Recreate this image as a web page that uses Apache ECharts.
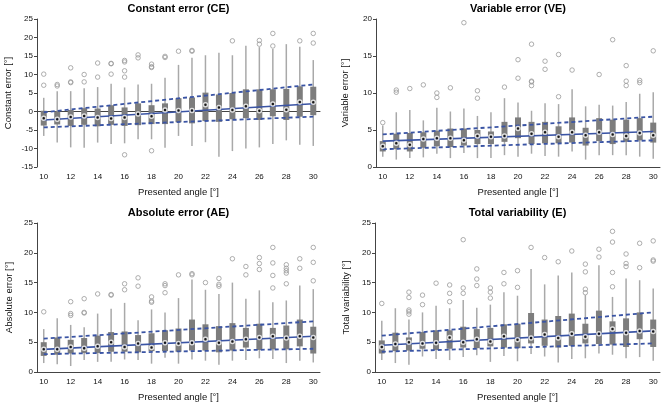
<!DOCTYPE html>
<html>
<head>
<meta charset="utf-8">
<script src="https://cdn.jsdelivr.net/npm/echarts@6/dist/echarts.min.js"></script>
<style>html,body{margin:0;padding:0;background:#fff}#c{width:669px;height:406px}</style>
</head>
<body>
<div id="c"></div>
<script>
const angles = ['10','11','12','13','14','15','16','17','18','19','20','21','22','23','24','25','26','27','28','29','30'];

// [lower whisker, Q1, median, Q3, upper whisker]
const ceBoxes = [
 [-6.6,-3.8,-1.8,0.2,3.7],[-8.4,-3.5,-2.1,0.0,5.5],[-9.7,-3.9,-1.5,0.4,5.5],[-9.8,-3.6,-1.2,0.9,6.3],
 [-8.4,-4.0,-1.6,0.8,6.6],[-8.8,-3.6,-1.9,1.7,7.5],[-8.6,-3.9,-1.6,1.1,6.5],[-7.5,-3.7,-0.7,2.2,7.3],
 [-7.5,-3.4,-1.3,1.7,7.5],[-9.8,-3.4,0.4,2.2,9.1],[-6.6,-2.9,0.3,3.6,12.6],[-9.3,-3.2,0.3,3.8,14.5],
 [-8.3,-2.6,1.8,5.1,15.2],[-12.2,-2.8,1.1,4.6,15.9],[-10.7,-2.1,0.4,5.0,15.2],[-10.0,-1.8,1.4,6.0,17.8],
 [-9.7,-2.3,0.2,6.0,17.4],[-8.8,-1.3,2.0,6.0,16.9],[-7.8,-2.3,0.5,6.1,18.2],[-9.0,-1.4,2.6,6.8,17.5],
 [-9.3,-1.0,2.5,6.7,13.9]
];
const ceOutliers = [[10.1,7.1],[7.3,6.9],[11.8,8.0,7.8],[10.0,8.0],[13.1,9.3],[13.0,12.9,10.1],
 [13.8,13.4,11.0,9.3,-11.7],[15.3,14.5],[12.8,12.1,11.9,-10.6],[14.9,14.6],[16.3],[16.5,16.3],[],[],
 [19.1],[],[19.2,18.2],[21.1,17.7],[],[19.1],[21.1,18.5]];
const ceFit = [-2.3, 2.1], ceUpper = [-0.2, 7.3], ceLower = [-4.3, -1.4];

const veBoxes = [
 [1.4,2.1,2.8,3.5,5.6],[1.0,2.4,3.2,4.5,7.4],[1.2,2.1,3.0,4.6,7.7],[1.3,2.6,3.8,4.7,6.3],
 [1.8,2.8,3.9,4.9,8.0],[1.2,2.7,3.9,5.2,7.5],[1.9,2.9,3.6,5.2,7.9],[1.2,3.1,4.2,5.0,6.9],
 [1.2,3.1,4.1,4.8,7.4],[1.6,3.4,4.2,6.1,9.3],[1.4,3.9,5.2,6.7,8.7],[1.8,3.1,4.5,6.1,7.6],
 [1.5,3.2,4.7,6.1,8.6],[1.4,3.2,4.1,5.5,8.5],[2.1,3.3,4.7,6.7,10.5],[1.0,2.9,4.3,5.3,8.2],
 [1.6,3.5,4.7,6.6,8.4],[1.6,3.1,4.4,6.4,8.3],[1.6,3.4,4.2,6.4,8.8],[1.4,3.6,4.6,6.6,9.9],
 [1.1,3.3,4.3,6.0,10.1]
];
const veOutliers = [[6.0],[10.4,10.1],[10.6],[11.1],[10.0,9.4],[10.7],[19.5],[10.3,9.3],[],[10.8],
 [14.5,12.0],[16.6,11.6,11.5,11.0],[14.3,13.2],[15.2,9.5],[13.1],[],[12.5],[17.2],[13.7,11.6,11.0],
 [11.7,11.4],[15.7]];
const veFit = [3.5, 4.8], veUpper = [4.4, 6.8], veLower = [2.4, 3.6];

const aeBoxes = [
 [1.5,2.7,3.8,5.0,7.2],[1.3,2.9,3.8,5.8,9.0],[1.0,3.1,4.2,5.4,7.9],[2.0,3.2,4.0,5.7,7.5],
 [1.7,3.2,4.3,6.1,9.8],[1.7,3.4,5.0,6.7,10.6],[2.1,3.4,4.2,6.8,11.6],[2.0,3.3,4.8,6.2,8.7],
 [1.4,3.5,4.1,6.5,10.5],[2.4,3.5,4.9,7.0,10.0],[1.4,3.4,4.8,7.3,12.4],[2.1,3.6,4.9,8.8,15.5],
 [1.9,3.6,5.5,8.0,13.8],[1.2,3.3,4.9,7.7,13.1],[1.9,3.6,5.1,8.2,15.0],[2.0,4.1,5.5,7.4,12.3],
 [2.3,3.7,5.8,8.1,13.7],[2.2,3.8,6.0,7.4,11.7],[1.5,3.8,5.7,7.8,12.0],[1.9,4.3,6.0,8.8,14.5],
 [1.6,3.1,5.8,7.6,13.9]
];
const aeOutliers = [[10.1],[],[11.8,9.8,9.5],[12.3,10.0,9.9],[13.1],[13.0,12.9],[14.8,13.8],[15.8,14.4],
 [12.6,11.9,11.7],[14.8,14.5,13.3],[16.3],[16.5,16.3],[15.0],[15.7,14.7,14.4],[19.0],[17.7,16.3],
 [19.2,18.2,17.2],[20.9,18.3,16.2,14.1],[18.0,17.4,17.0,16.6,14.8],[19.0,17.4],[20.9,18.4,15.3]];
const aeFit = [3.8, 6.0], aeUpper = [5.6, 8.5], aeLower = [3.0, 3.9];

const eBoxes = [
 [2.0,3.1,4.2,5.3,8.6],[1.5,3.5,4.7,6.6,10.7],[1.2,3.6,5.0,5.8,8.8],[2.6,3.9,4.8,6.7,10.0],
 [2.2,3.7,4.9,7.0,11.1],[2.0,3.9,5.8,7.0,10.7],[2.5,4.1,5.0,7.6,12.1],[2.8,4.0,5.5,7.2,10.8],
 [1.7,4.3,5.1,7.4,11.3],[2.7,4.1,6.0,8.0,13.4],[1.8,4.0,5.4,8.1,12.8],[3.0,4.8,5.7,9.9,17.3],
 [2.6,4.4,6.3,8.8,14.7],[1.6,4.1,5.7,9.4,16.2],[2.2,4.4,6.4,9.8,16.7],[2.3,4.8,5.9,8.1,12.9],
 [3.1,4.7,6.4,10.3,17.9],[2.9,4.6,7.2,8.5,12.6],[2.3,4.2,6.6,9.0,15.7],[2.5,5.5,6.9,10.0,15.4],
 [1.9,4.2,6.8,8.8,14.0]
];
const eOutliers = [[11.5],[],[13.4,12.5,10.4,10.1,9.7],[12.9,11.3],[14.9],[14.6,13.2,11.8],[22.2,14.1,13.2],
 [17.3,15.6,14.5],[14.1,13.4,12.4],[16.7,14.8],[17.0,14.2],[20.9],[19.2],[18.5],[20.3],[18.1,16.8,13.9,13.3],
 [20.6,19.3],[23.6,21.8,16.7,14.3],[19.8,18.2,17.7],[21.6,17.5],[22.0,18.8,18.6]];
const eFit = [4.5, 6.9], eUpper = [6.1, 10.0], eLower = [3.4, 4.8];

const panels = [
 {title:'Constant error (CE)', yName:'Constant error [°]', min:-15, max:25, boxes:ceBoxes, out:ceOutliers, fit:ceFit, up:ceUpper, lo:ceLower,
  grid:{left:37, top:19, width:283, height:148}, nameGap:24},
 {title:'Variable error (VE)', yName:'Variable error [°]', min:0, max:20, boxes:veBoxes, out:veOutliers, fit:veFit, up:veUpper, lo:veLower,
  grid:{left:376, top:19, width:284, height:148}, nameGap:26},
 {title:'Absolute error (AE)', yName:'Absolute error [°]', min:0, max:25, boxes:aeBoxes, out:aeOutliers, fit:aeFit, up:aeUpper, lo:aeLower,
  grid:{left:37, top:223, width:283, height:149}, nameGap:23},
 {title:'Total variability (E)', yName:'Total variability [°]', min:0, max:25, boxes:eBoxes, out:eOutliers, fit:eFit, up:eUpper, lo:eLower,
  grid:{left:375, top:223, width:285, height:149}, nameGap:24}
];

const FONT = '"Liberation Sans", Arial, Helvetica, sans-serif';
const axisCol = '#444';
const BLUE = '#3a54a4';

const option = {animation:false, backgroundColor:'#fff', grid:[], xAxis:[], yAxis:[], series:[], graphic:[]};

panels.forEach((p, k) => {
  option.grid.push(p.grid);
  option.graphic.push({type:'text', x:p.grid.left + p.grid.width/2, y:p.grid.top - 10,
    style:{text:p.title, font:'bold 11px ' + FONT, fill:'#000', textAlign:'center', textVerticalAlign:'middle', align:'center', verticalAlign:'middle'}});
  option.xAxis.push({type:'category', gridIndex:k, data:angles, boundaryGap:true,
    name:'Presented angle [°]', nameLocation:'middle', nameGap:20,
    nameTextStyle:{fontFamily:FONT, fontSize:9.5, color:'#111'},
    axisLine:{lineStyle:{color:axisCol, width:1}},
    axisTick:{interval:1, alignWithLabel:true, length:3, lineStyle:{color:axisCol}},
    axisLabel:{interval:1, fontFamily:FONT, fontSize:8, color:'#111', margin:6},
    splitLine:{show:false}});
  option.xAxis.push({type:'value', gridIndex:k, min:9.5, max:30.5, show:false});
  option.yAxis.push({type:'value', gridIndex:k, min:p.min, max:p.max, interval:5,
    name:p.yName, nameLocation:'middle', nameGap:p.nameGap,
    nameTextStyle:{fontFamily:FONT, fontSize:9.5, color:'#111'},
    axisLine:{show:true, lineStyle:{color:axisCol, width:1}},
    axisTick:{show:true, length:3, lineStyle:{color:axisCol}},
    axisLabel:{fontFamily:FONT, fontSize:8, color:'#111', margin:4},
    splitLine:{show:false}});
  const xc = 2*k, xv = 2*k+1;
  option.series.push({type:'custom', xAxisIndex:xc, yAxisIndex:k,
    data: p.boxes.map((b, i) => [i, b[0], b[1], b[2], b[3], b[4]]),
    encode:{x:0, y:[1,2,3,4,5]},
    renderItem:(params, api) => {
      const x = api.value(0);
      const lo = api.coord([x, api.value(1)]);
      const q1 = api.coord([x, api.value(2)]);
      const q3 = api.coord([x, api.value(4)]);
      const hi = api.coord([x, api.value(5)]);
      const w = 6;
      return {type:'group', children:[
        {type:'line', shape:{x1:lo[0], y1:lo[1], x2:hi[0], y2:hi[1]}, style:{stroke:'#a9a9a9', lineWidth:1.5}},
        {type:'rect', shape:{x:q1[0]-w/2, y:q3[1], width:w, height:q1[1]-q3[1]}, style:{fill:'#7d7d7d'}}
      ]};
    }, z:2});
  const outData = [];
  p.out.forEach((arr, i) => arr.forEach(v => outData.push([i, v])));
  option.series.push({type:'scatter', xAxisIndex:xc, yAxisIndex:k, data:outData,
    symbol:'circle', symbolSize:4.5,
    itemStyle:{color:'rgba(255,255,255,0)', borderColor:'#9a9a9a', borderWidth:1}, z:3});
  option.series.push({type:'line', xAxisIndex:xv, yAxisIndex:k, data:[[10,p.fit[0]],[30,p.fit[1]]],
    showSymbol:false, lineStyle:{color:BLUE, width:1.6}, z:4});
  option.series.push({type:'line', xAxisIndex:xv, yAxisIndex:k, data:[[10,p.up[0]],[30,p.up[1]]],
    showSymbol:false, lineStyle:{color:BLUE, width:1.8, type:[4,3]}, z:4});
  option.series.push({type:'line', xAxisIndex:xv, yAxisIndex:k, data:[[10,p.lo[0]],[30,p.lo[1]]],
    showSymbol:false, lineStyle:{color:BLUE, width:1.8, type:[4,3]}, z:4});
  option.series.push({type:'scatter', xAxisIndex:xc, yAxisIndex:k,
    data:p.boxes.map((b, i) => [i, b[2]]),
    symbol:'circle', symbolSize:4, itemStyle:{color:'#000', borderColor:'#fff', borderWidth:1.5}, z:5});
});

const chart = echarts.init(document.getElementById('c'), null, {renderer:'canvas'});
chart.setOption(option);
</script>
</body>
</html>
